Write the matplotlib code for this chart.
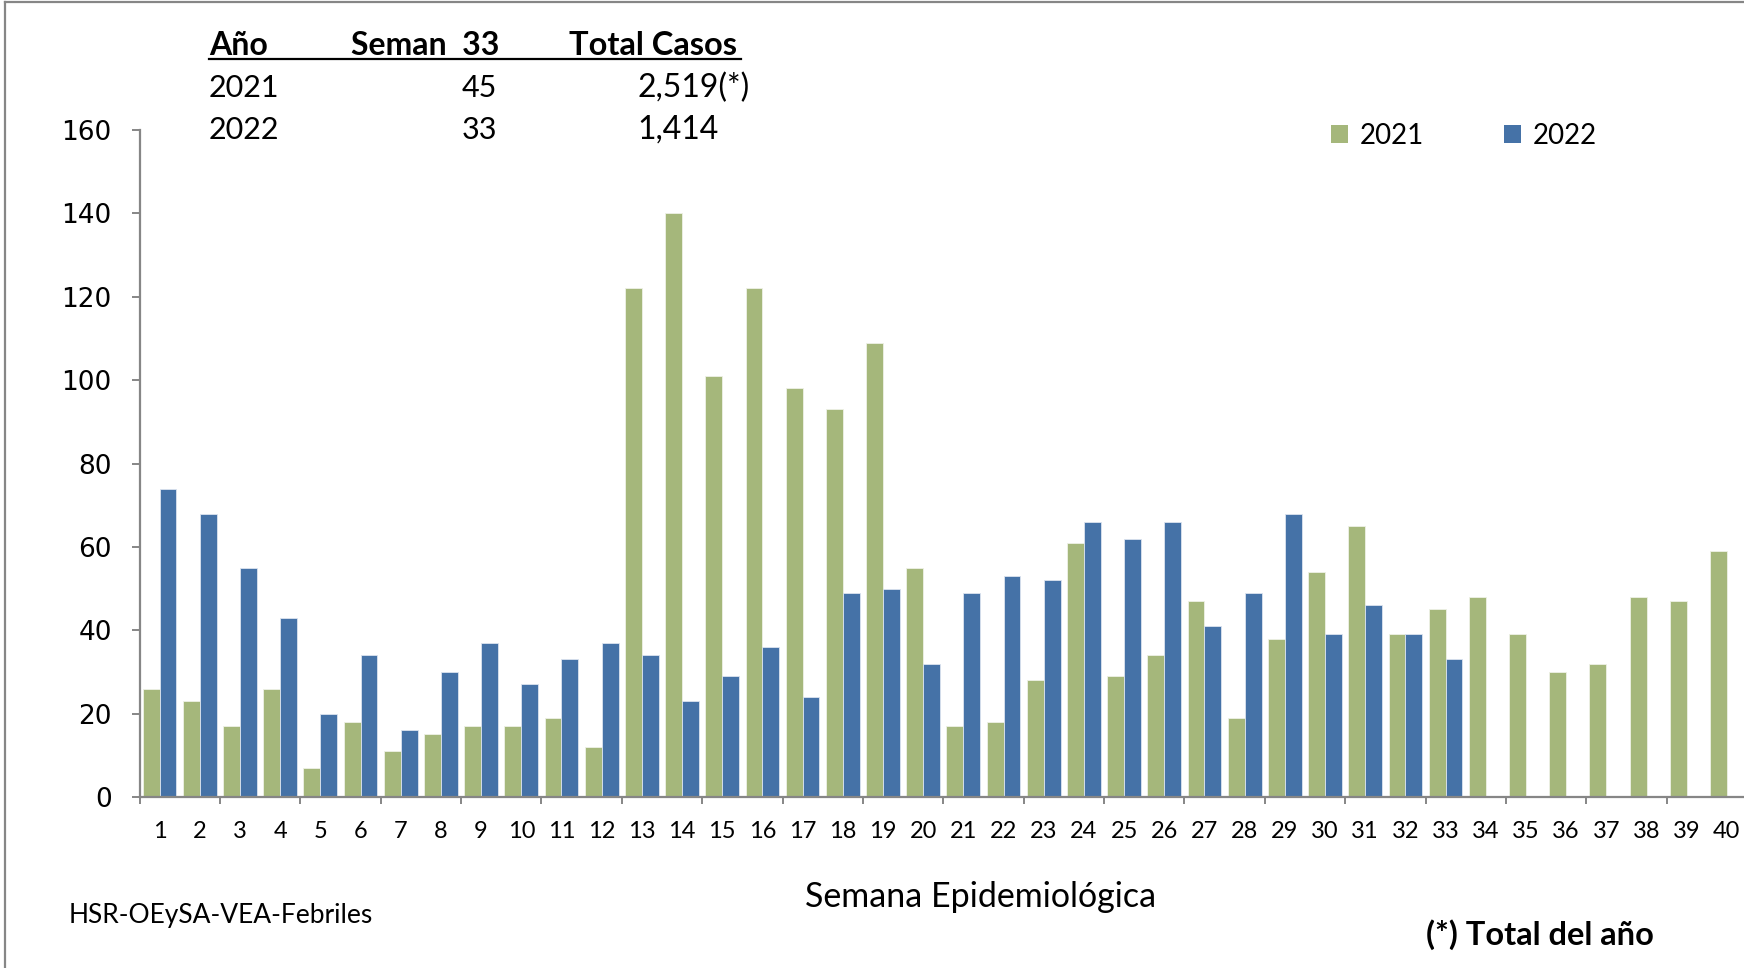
import matplotlib
matplotlib.use("Agg")
import matplotlib.pyplot as plt
from matplotlib.lines import Line2D
from matplotlib.patches import Patch
import numpy as np

# ---------------- data ----------------
weeks = list(range(1, 41))
cases_2021 = [26, 23, 17, 26, 7, 18, 11, 15, 17, 17,
              19, 12, 122, 140, 101, 122, 98, 93, 109, 55,
              17, 18, 28, 61, 29, 34, 47, 19, 38, 54,
              65, 39, 45, 48, 39, 30, 32, 48, 47, 59]
cases_2022 = [74, 68, 55, 43, 20, 34, 16, 30, 37, 27,
              33, 37, 34, 23, 29, 36, 24, 49, 50, 32,
              49, 53, 52, 66, 62, 66, 41, 49, 68, 39,
              46, 39, 33]
series_labels = ["2021", "2022"]
y_ticks = [0, 20, 40, 60, 80, 100, 120, 140, 160]

table_header = ["Año", "Seman  33", "Total Casos"]
table_years = ["2021", "2022"]
table_week = ["45", "33"]
table_totals = ["2,519(*)", "1,414"]

x_label = "Semana Epidemiológica"
source_text = "HSR-OEySA-VEA-Febriles"
note_text = "(*) Total del año"

# ---------------- style ----------------
GREEN = "#A5B77B"
BLUE = "#4572A7"
GRAY = "#868686"
FONT = ["Lato", "DejaVu Sans"]

W, H = 1744, 968
fig = plt.figure(figsize=(W / 100, H / 100), dpi=100)
fig.patch.set_facecolor("white")

def fx(px):
    return px / W

def fy(py):
    return 1 - py / H

ax = fig.add_axes([fx(139.5), fy(797), fx(1747) - fx(139.5), fy(130) - fy(797)])

x = np.array(weeks, dtype=float)
bw = 0.42
ax.bar(x - bw / 2, cases_2021, width=bw, color=GREEN, edgecolor="#EEF1E6",
       linewidth=0.6, label=series_labels[0], zorder=2)
ax.bar(x[:len(cases_2022)] + bw / 2, cases_2022, width=bw, color=BLUE,
       edgecolor="#DCE4EF", linewidth=0.6, label=series_labels[1], zorder=2)

ax.set_xlim(0.5, 40.5)
ax.set_ylim(0, 160)

for s in ["top", "right"]:
    ax.spines[s].set_visible(False)
for s in ["left", "bottom"]:
    ax.spines[s].set_color(GRAY)
    ax.spines[s].set_linewidth(1.6)

ax.set_yticks(y_ticks)
ax.set_yticklabels([str(v) for v in y_ticks], fontfamily=["DejaVu Sans"], fontsize=19)
ax.tick_params(axis="y", direction="out", length=6, width=1.4, color=GRAY, pad=14)

# major x ticks at group boundaries (every 2 categories), labels on minor ticks
ax.set_xticks(np.arange(0.5, 41, 2.0))
ax.set_xticklabels([])
ax.tick_params(axis="x", which="major", direction="out", length=5, width=1.4, color=GRAY)
ax.set_xticks(x, minor=True)
ax.set_xticklabels([str(w) for w in weeks], minor=True, fontfamily=FONT, fontsize=17)
ax.tick_params(axis="x", which="minor", length=0, pad=17)

# legend
handles = [Patch(facecolor=GREEN, edgecolor="none"), Patch(facecolor=BLUE, edgecolor="none")]
fig.legend(handles, series_labels, loc="center left",
           bbox_to_anchor=(fx(1331), fy(136)), bbox_transform=fig.transFigure,
           ncol=2, frameon=False, prop={"family": FONT, "size": 20},
           handlelength=0.62, handleheight=0.62, handletextpad=0.4,
           columnspacing=2.9, borderpad=0, borderaxespad=0)

# axis title
fig.text(fx(981), fy(907), x_label, ha="center", va="baseline",
         fontfamily=FONT, fontsize=24.5)

# source & note
fig.text(fx(69), fy(923), source_text, ha="left", va="baseline",
         fontfamily=FONT, fontsize=19)
fig.text(fx(1426), fy(945), note_text, ha="left", va="baseline",
         fontfamily=FONT, fontsize=23.5, fontweight="bold")

# table at top
fig.text(fx(209), fy(55), table_header[0], ha="left", va="baseline",
         fontfamily=FONT, fontsize=23, fontweight="bold")
fig.text(fx(351), fy(55), table_header[1], ha="left", va="baseline",
         fontfamily=FONT, fontsize=23, fontweight="bold")
fig.text(fx(569), fy(55), table_header[2], ha="left", va="baseline",
         fontfamily=FONT, fontsize=23.5, fontweight="bold")
fig.add_artist(Line2D([fx(209), fx(741)], [fy(59), fy(59)], color="black",
                      linewidth=1.6, transform=fig.transFigure))
row_base = [97, 139]
for i in range(2):
    fig.text(fx(209), fy(row_base[i]), table_years[i], ha="left", va="baseline",
             fontfamily=FONT, fontsize=22)
    fig.text(fx(497), fy(row_base[i]), table_week[i], ha="right", va="baseline",
             fontfamily=FONT, fontsize=22)
    fig.text(fx(637), fy(row_base[i]), table_totals[i], ha="left", va="baseline",
             fontfamily=FONT, fontsize=23)

# chart border (only top and left visible; chart is cropped)
fig.add_artist(Line2D([fx(5), fx(1744)], [fy(2), fy(2)], color=GRAY, linewidth=1.6,
                      transform=fig.transFigure))
fig.add_artist(Line2D([fx(5), fx(5)], [fy(2), fy(968)], color=GRAY, linewidth=1.6,
                      transform=fig.transFigure))

fig.savefig("out.png", dpi=100)
